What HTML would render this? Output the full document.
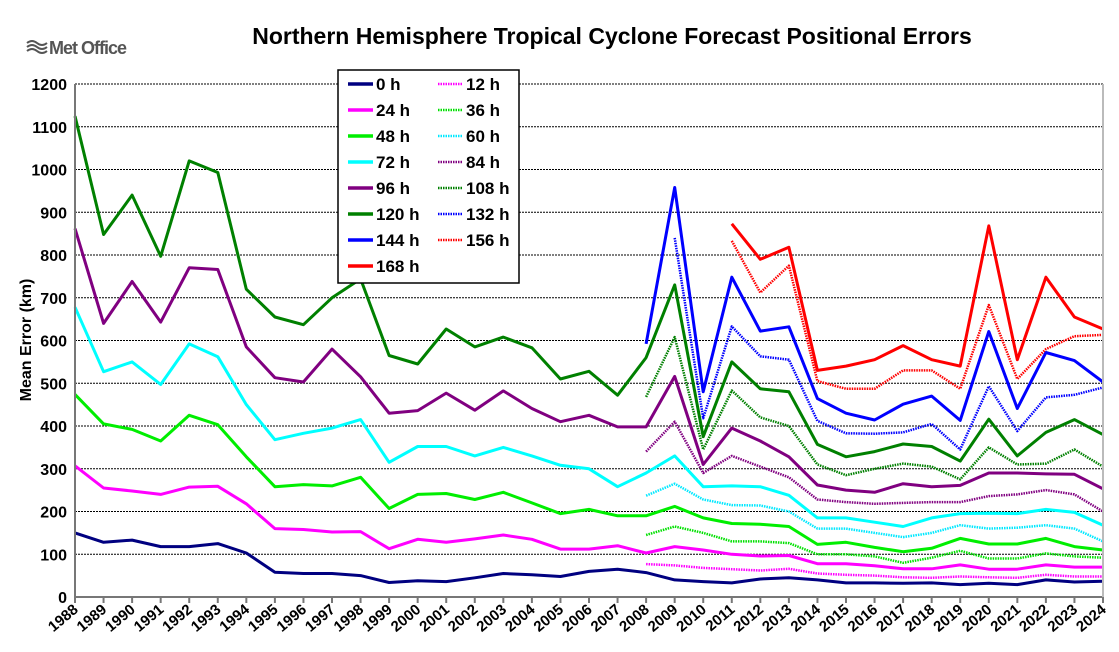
<!DOCTYPE html>
<html><head><meta charset="utf-8"><style>
body{margin:0;background:#fff;}
svg{display:block;font-family:"Liberation Sans",Arial,sans-serif;}
</style></head><body>
<svg id="chart" width="1119" height="652" xmlns="http://www.w3.org/2000/svg">
<g>
<path d="M27 43 q5-4 10 0 t10 0 M27 47 q5-4 10 0 t10 0 M27 51 q5-4 10 0 t10 0" stroke="#555" stroke-width="2" fill="none"/>
<text x="49" y="54" font-size="18" font-weight="bold" fill="#555" letter-spacing="-1">Met Office</text>
</g>
<text x="612" y="44" text-anchor="middle" font-size="23" font-weight="bold">Northern Hemisphere Tropical Cyclone Forecast Positional Errors</text>
<text transform="translate(31,340) rotate(-90)" text-anchor="middle" font-size="16" font-weight="bold">Mean Error (km)</text>
<g id="grid"></g><g id="series"></g><g id="axes"></g>
<g id="legend"></g>
</svg>
<script>
const years=[];for(let y=1988;y<=2024;y++)years.push(y);
const yTicks=[0,100,200,300,400,500,600,700,800,900,1000,1100,1200];
const e0=[150,128,133,118,118,125,103,58,55,55,50,34,38,36,45,55,52,48,60,65,57,40,36,33,42,45,40,33,33,32,33,29,32,29,40,35,37];
const e24=[307,255,248,240,257,259,218,160,158,152,153,113,135,128,136,145,135,112,112,120,103,118,110,100,96,97,78,78,73,66,66,75,65,65,75,70,70];
const e48=[474,405,392,365,425,403,328,258,263,260,280,207,240,242,228,245,220,195,205,190,190,212,185,172,170,165,123,128,116,106,114,137,124,124,137,118,110];
const e72=[678,527,550,497,592,562,450,368,383,395,415,315,352,352,330,350,330,308,300,258,290,330,258,260,258,238,185,185,175,165,185,195,196,195,205,198,168];
const e96=[862,640,738,643,770,766,585,513,503,580,515,430,436,477,437,482,441,410,425,398,398,516,310,395,365,328,262,250,245,265,258,261,290,290,288,287,253];
const e120=[1125,848,940,797,1020,993,720,655,637,700,744,565,545,627,585,608,583,510,528,472,560,730,375,550,487,480,357,328,340,358,352,318,416,330,385,415,380];
const e144=[592,958,480,748,622,632,464,430,414,451,470,413,621,441,572,553,503];
const e168=[873,790,818,530,540,555,588,555,540,868,555,748,655,627];
const e12=[77,74,68,65,62,66,55,52,50,46,45,48,46,45,52,48,48];
const e36=[145,165,150,130,130,126,100,100,95,80,92,108,90,90,102,95,92];
const e60=[237,265,228,215,214,200,160,160,150,140,150,168,160,162,168,160,130];
const e84=[340,410,290,330,305,280,228,222,218,220,222,222,236,240,250,240,200];
const e108=[468,608,345,483,420,400,310,285,300,312,305,275,350,310,312,345,305];
const e132=[840,418,633,563,555,412,383,382,385,405,345,493,388,467,473,490];
const e156=[833,712,775,505,487,487,530,530,487,683,510,580,610,613];
const NS="http://www.w3.org/2000/svg";
const L=75,R=1103,T=84,B=597;
const xs=i=>L+i*(R-L)/(years.length-1);
const ys=v=>B-v*(B-T)/1200;
function mk(t,a,p){const e=document.createElementNS(NS,t);for(const k in a)e.setAttribute(k,a[k]);p.appendChild(e);return e;}
const grid=document.getElementById('grid'),axes=document.getElementById('axes'),ser=document.getElementById('series');
yTicks.forEach(v=>{
 if(v>0){const g=mk('line',{x1:L,x2:R,y1:ys(v),y2:ys(v),stroke:'#000','stroke-width':1,'stroke-dasharray':'2 1'},grid);
 
 }
 const t=mk('text',{x:L-8,y:ys(v)+6,'text-anchor':'end','font-size':16,'font-weight':'bold'},axes);t.textContent=v;
 
 
});
mk('line',{x1:L,x2:L,y1:T,y2:B,stroke:'#777','stroke-width':2},axes);
mk('line',{x1:L,x2:R,y1:B,y2:B,stroke:'#777','stroke-width':2},axes);
mk('line',{x1:R,x2:R,y1:T,y2:B,stroke:'#bbb','stroke-width':2},axes);
years.forEach((y,i)=>{
 mk('line',{x1:xs(i),x2:xs(i),y1:B,y2:B+6,stroke:'#777','stroke-width':2},axes);
 const t=mk('text',{transform:`translate(${xs(i)+4},${B+14}) rotate(-40)`,'text-anchor':'end','font-size':15,'font-weight':'bold'},axes);t.textContent=y;
 
 
});
const defs=[
 ['0 h',e0,0,'#000080',false],['12 h',e12,20,'#ff00ff',true],
 ['24 h',e24,0,'#ff00ff',false],['36 h',e36,20,'#00e000',true],
 ['48 h',e48,0,'#00ee00',false],['60 h',e60,20,'#00e8ff',true],
 ['72 h',e72,0,'#00ffff',false],['84 h',e84,20,'#800080',true],
 ['96 h',e96,0,'#800080',false],['108 h',e108,20,'#008000',true],
 ['120 h',e120,0,'#008000',false],['132 h',e132,21,'#0000ff',true],
 ['144 h',e144,20,'#0000ff',false],['156 h',e156,23,'#ff0000',true],
 ['168 h',e168,23,'#ff0000',false]];
defs.forEach(([n,d,s,c,dot])=>{
 const pts=d.map((v,i)=>xs(s+i).toFixed(1)+','+ys(v).toFixed(1)).join(' ');
 const p=mk('polyline',{points:pts,fill:'none',stroke:c,'stroke-width':dot?2.5:3,'stroke-linejoin':'round'},ser);
 if(dot)p.setAttribute('stroke-dasharray','1.5 1');
 
 
});
const lg=document.getElementById('legend');
mk('rect',{x:338,y:70,width:181,height:213,fill:'#fff',stroke:'#000','stroke-width':1.5},lg);
defs.forEach(([n,d,s,c,dot],k)=>{
 const col=k%2,row=Math.floor(k/2);const x=348+col*90,y=84+row*26;
 const l=mk('line',{x1:x,x2:x+25,y1:y,y2:y,stroke:c,'stroke-width':dot?2.5:3.5},lg);
 if(dot)l.setAttribute('stroke-dasharray','1.5 1');
 const t=mk('text',{x:x+28,y:y+6,'font-size':17,'font-weight':'bold'},lg);t.textContent=n;
 
 
});
</script>
</body></html>
